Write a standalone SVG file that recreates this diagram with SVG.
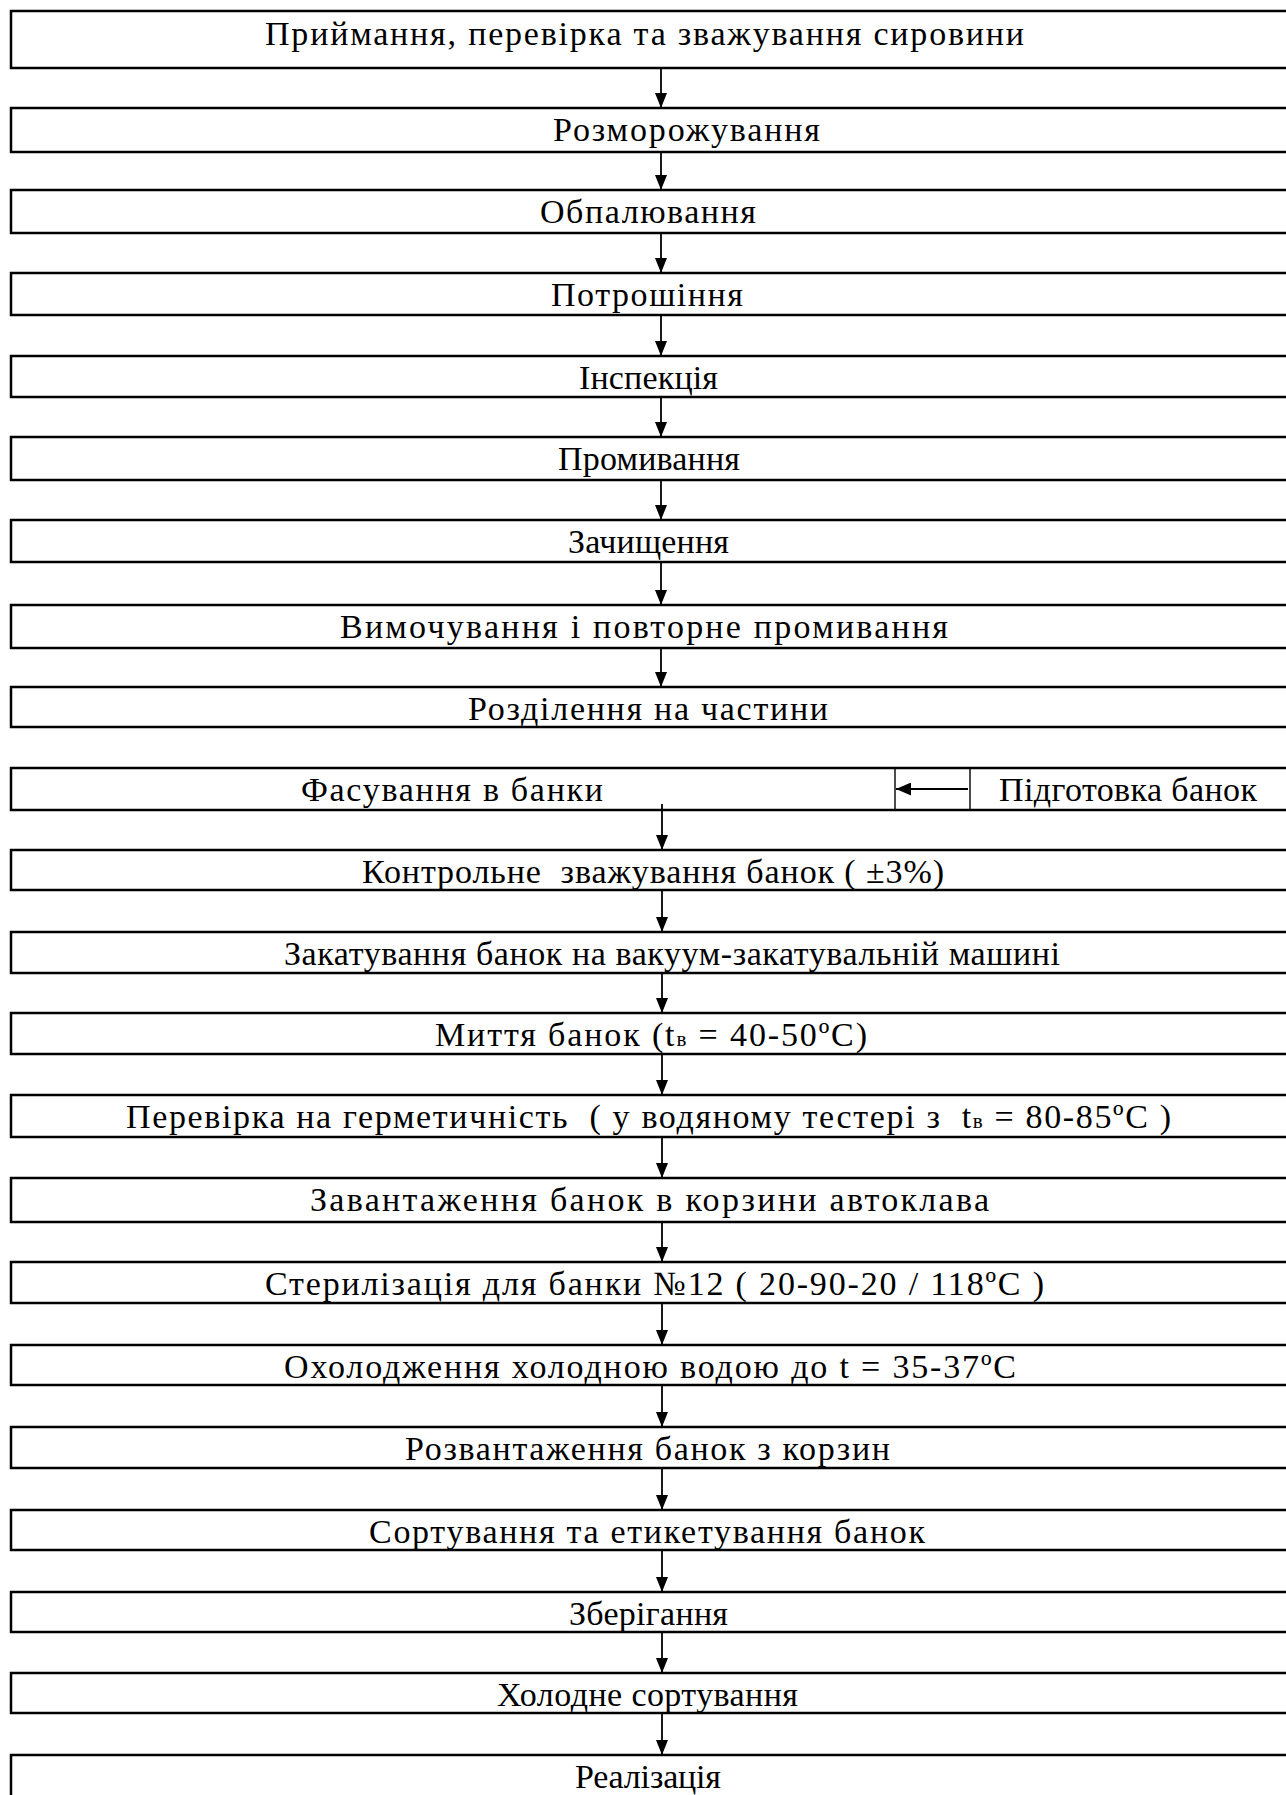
<svg xmlns="http://www.w3.org/2000/svg" width="1286" height="1795" viewBox="0 0 1286 1795">
<style>
.box{fill:#fff;stroke:#000;stroke-width:2.5}
.t{font-family:"Liberation Serif","Times New Roman",serif;font-size:34px;fill:#000}
.c{stroke:#000;stroke-width:1.8;fill:none}
.div{stroke:#000;stroke-width:1.4}
</style>
<defs>
<marker id="ah" viewBox="0 0 15 12" refX="15" refY="6" markerWidth="15" markerHeight="12" markerUnits="userSpaceOnUse" orient="auto">
<path d="M0,0 L15,6 L0,12 Z" fill="#000"/>
</marker>
<marker id="ahl" viewBox="0 0 15 13" refX="15" refY="6.5" markerWidth="15" markerHeight="13" markerUnits="userSpaceOnUse" orient="auto">
<path d="M0,0 L15,6.5 L0,13 Z" fill="#000"/>
</marker>
</defs>
<rect width="1286" height="1795" fill="#fff"/>
<g id="n1"><rect class="box" x="11" y="11" width="1290" height="57"/><text class="t" x="265" y="45" textLength="759" lengthAdjust="spacing">Приймання, перевірка та зважування сировини</text></g>
<g id="n2"><rect class="box" x="11" y="108" width="1290" height="44"/><text class="t" x="553" y="141" textLength="267" lengthAdjust="spacing">Розморожування</text></g>
<g id="n3"><rect class="box" x="11" y="190" width="1290" height="43"/><text class="t" x="540" y="223" textLength="216" lengthAdjust="spacing">Обпалювання</text></g>
<g id="n4"><rect class="box" x="11" y="273" width="1290" height="42"/><text class="t" x="551" y="306" textLength="192" lengthAdjust="spacing">Потрошіння</text></g>
<g id="n5"><rect class="box" x="11" y="356" width="1290" height="41"/><text class="t" x="579" y="389" textLength="139" lengthAdjust="spacing">Інспекція</text></g>
<g id="n6"><rect class="box" x="11" y="437" width="1290" height="43"/><text class="t" x="558" y="470" textLength="182" lengthAdjust="spacing">Промивання</text></g>
<g id="n7"><rect class="box" x="11" y="520" width="1290" height="42"/><text class="t" x="568" y="553" textLength="161" lengthAdjust="spacing">Зачищення</text></g>
<g id="n8"><rect class="box" x="11" y="605" width="1290" height="43"/><text class="t" x="340" y="638" textLength="608" lengthAdjust="spacing">Вимочування і повторне промивання</text></g>
<g id="n9"><rect class="box" x="11" y="687" width="1290" height="40"/><text class="t" x="468" y="720" textLength="360" lengthAdjust="spacing">Розділення на частини</text></g>
<g id="n10"><rect class="box" x="11" y="768" width="1290" height="42"/><text class="t" x="301" y="801" textLength="302" lengthAdjust="spacing">Фасування в банки</text></g>
<g id="n10b"><line class="div" x1="895" y1="768" x2="895" y2="810"/><line class="div" x1="970" y1="768" x2="970" y2="810"/><text class="t" x="999" y="801" textLength="258" lengthAdjust="spacing">Підготовка банок</text></g>
<g id="n11"><rect class="box" x="11" y="850" width="1290" height="40"/><text class="t" x="362" y="883" textLength="582" lengthAdjust="spacing" xml:space="preserve">Контрольне  зважування банок ( ±3%)</text></g>
<g id="n12"><rect class="box" x="11" y="932" width="1290" height="41"/><text class="t" x="284" y="965" textLength="776" lengthAdjust="spacing">Закатування банок на вакуум-закатувальній машині</text></g>
<g id="n13"><rect class="box" x="11" y="1013" width="1290" height="41"/><text class="t" x="435" y="1046" textLength="432" lengthAdjust="spacing">Миття банок (t<tspan font-size="21">в</tspan> = 40-50ºC)</text></g>
<g id="n14"><rect class="box" x="11" y="1095" width="1290" height="42"/><text class="t" x="126" y="1128" textLength="1045" lengthAdjust="spacing" xml:space="preserve">Перевірка на герметичність  ( у водяному тестері з  t<tspan font-size="21">в</tspan> = 80-85ºC )</text></g>
<g id="n15"><rect class="box" x="11" y="1178" width="1290" height="44"/><text class="t" x="310" y="1211" textLength="679" lengthAdjust="spacing">Завантаження банок в корзини автоклава</text></g>
<g id="n16"><rect class="box" x="11" y="1262" width="1290" height="41"/><text class="t" x="265" y="1295" textLength="779" lengthAdjust="spacing">Стерилізація для банки №12 ( 20-90-20 / 118ºC )</text></g>
<g id="n17"><rect class="box" x="11" y="1345" width="1290" height="40"/><text class="t" x="284" y="1378" textLength="732" lengthAdjust="spacing">Охолодження холодною водою до t = 35-37ºC</text></g>
<g id="n18"><rect class="box" x="11" y="1427" width="1290" height="41"/><text class="t" x="405" y="1460" textLength="485" lengthAdjust="spacing">Розвантаження банок з корзин</text></g>
<g id="n19"><rect class="box" x="11" y="1510" width="1290" height="40"/><text class="t" x="369" y="1543" textLength="556" lengthAdjust="spacing">Сортування та етикетування банок</text></g>
<g id="n20"><rect class="box" x="11" y="1592" width="1290" height="40"/><text class="t" x="569" y="1625" textLength="159" lengthAdjust="spacing">Зберігання</text></g>
<g id="n21"><rect class="box" x="11" y="1673" width="1290" height="40"/><text class="t" x="497" y="1706" textLength="301" lengthAdjust="spacing">Холодне сортування</text></g>
<g id="n22"><rect class="box" x="11" y="1755" width="1290" height="60"/><text class="t" x="575" y="1788" textLength="146" lengthAdjust="spacing">Реалізація</text></g>
<g id="connectors">
<line class="c" x1="661" y1="69" x2="661" y2="108" marker-end="url(#ah)"/>
<line class="c" x1="661" y1="153" x2="661" y2="190" marker-end="url(#ah)"/>
<line class="c" x1="661" y1="234" x2="661" y2="273" marker-end="url(#ah)"/>
<line class="c" x1="661" y1="316" x2="661" y2="356" marker-end="url(#ah)"/>
<line class="c" x1="661" y1="398" x2="661" y2="437" marker-end="url(#ah)"/>
<line class="c" x1="661" y1="481" x2="661" y2="520" marker-end="url(#ah)"/>
<line class="c" x1="661" y1="563" x2="661" y2="605" marker-end="url(#ah)"/>
<line class="c" x1="661" y1="649" x2="661" y2="687" marker-end="url(#ah)"/>
<line class="c" x1="968" y1="789" x2="896" y2="789" stroke-width="2" marker-end="url(#ahl)"/>
<line class="c" x1="662" y1="804" x2="662" y2="850" marker-end="url(#ah)"/>
<line class="c" x1="662" y1="891" x2="662" y2="932" marker-end="url(#ah)"/>
<line class="c" x1="662" y1="974" x2="662" y2="1013" marker-end="url(#ah)"/>
<line class="c" x1="662" y1="1055" x2="662" y2="1095" marker-end="url(#ah)"/>
<line class="c" x1="662" y1="1138" x2="662" y2="1178" marker-end="url(#ah)"/>
<line class="c" x1="662" y1="1223" x2="662" y2="1262" marker-end="url(#ah)"/>
<line class="c" x1="662" y1="1304" x2="662" y2="1345" marker-end="url(#ah)"/>
<line class="c" x1="662" y1="1386" x2="662" y2="1427" marker-end="url(#ah)"/>
<line class="c" x1="662" y1="1469" x2="662" y2="1510" marker-end="url(#ah)"/>
<line class="c" x1="662" y1="1551" x2="662" y2="1592" marker-end="url(#ah)"/>
<line class="c" x1="662" y1="1633" x2="662" y2="1673" marker-end="url(#ah)"/>
<line class="c" x1="662" y1="1714" x2="662" y2="1755" marker-end="url(#ah)"/>
</g>
</svg>
